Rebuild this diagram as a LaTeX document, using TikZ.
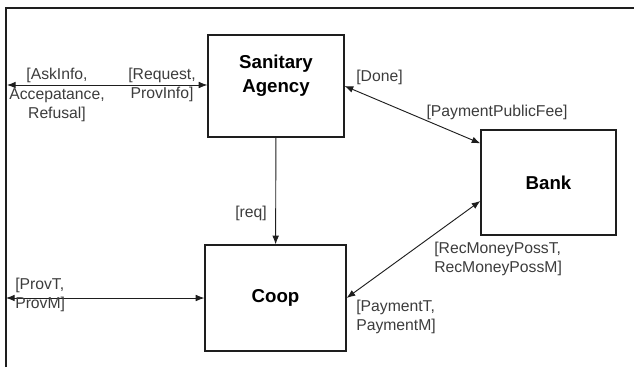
\documentclass[tikz,border=0pt]{standalone}
\usepackage{fontspec}
\setmainfont{Liberation Sans}
\usepackage{tikz}
\usetikzlibrary{positioning,arrows.meta,calc}
\definecolor{linec}{RGB}{30,30,30}
\definecolor{textc}{RGB}{60,60,60}
\tikzset{
  party/.style    = {draw=linec, line width=0.9pt, fill=white, align=center,
                     font=\fontsize{14}{17}\selectfont\bfseries},
  title/.style    = {align=center, inner sep=0pt, font=\fontsize{14}{17.5}\selectfont\bfseries},
  msg/.style      = {inner sep=0pt, text=textc, font=\fontsize{11.8}{14.6}\selectfont},
  flow/.style     = {-{Latex[length=6.5pt,width=5pt]}, line width=0.7pt, draw=linec},
  biflow/.style   = {{Latex[length=6.5pt,width=5pt]}-{Latex[length=6.5pt,width=5pt]},
                     line width=0.7pt, draw=linec},
}
\begin{document}
\begin{tikzpicture}[x=0.75pt,y=-0.75pt]
\useasboundingbox (0,0) rectangle (634,367);

% frame, cut at right and bottom
\draw[linec, line width=1.2pt] (6,367) -- (6,8) -- (634,8);

% the three parties, explicit coordinates in pixels
\node[party, minimum width=102pt, minimum height=76.5pt] (agency) at (276,86) {};
\node[title, below=15.5pt of agency.north] (agencyt) {Sanitary\\Agency};
\node[party, minimum width=101.25pt, minimum height=78.75pt] (bank) at (548.5,182.5) {Bank};
\node[party, minimum width=105.75pt, minimum height=79.5pt] (coop) at (275.5,298) {Coop};

% free ends on the frame
\coordinate (envtop) at (7,85);
\coordinate (envlow) at (6,298);

\draw[biflow] (envtop) -- (envtop -| agency.west);
\draw[biflow] (envlow) -- (envlow -| coop.west);
\draw[flow] (agency) -- (coop);
\draw[biflow] (agency.east) -- ([yshift=-10.5pt]bank.north west);
\draw[biflow] (coop.east) -- ([yshift=26pt]bank.south west);

% messages
\node[msg, align=center] (askinfo) at (57,95) {[AskInfo,\\Accepatance,\\Refusal]};
\node[msg, align=center] (request) at (162,85) {[Request,\\ProvInfo]};
\node[msg, align=left, anchor=west] (provt) at (15,295) {[ProvT,\\ProvM]};
\node[msg, anchor=east] (req) at (267,213) {[req]};
\node[msg, anchor=west] (done) at (356,77) {[Done]};
\node[msg] (fee) at (497,112) {[PaymentPublicFee]};
\node[msg, align=left, anchor=west] (recmoney) at (434,259) {[RecMoneyPossT,\\RecMoneyPossM]};
\node[msg, align=left, anchor=west] (payment) at (356,317) {[PaymentT,\\PaymentM]};

\end{tikzpicture}
\end{document}
